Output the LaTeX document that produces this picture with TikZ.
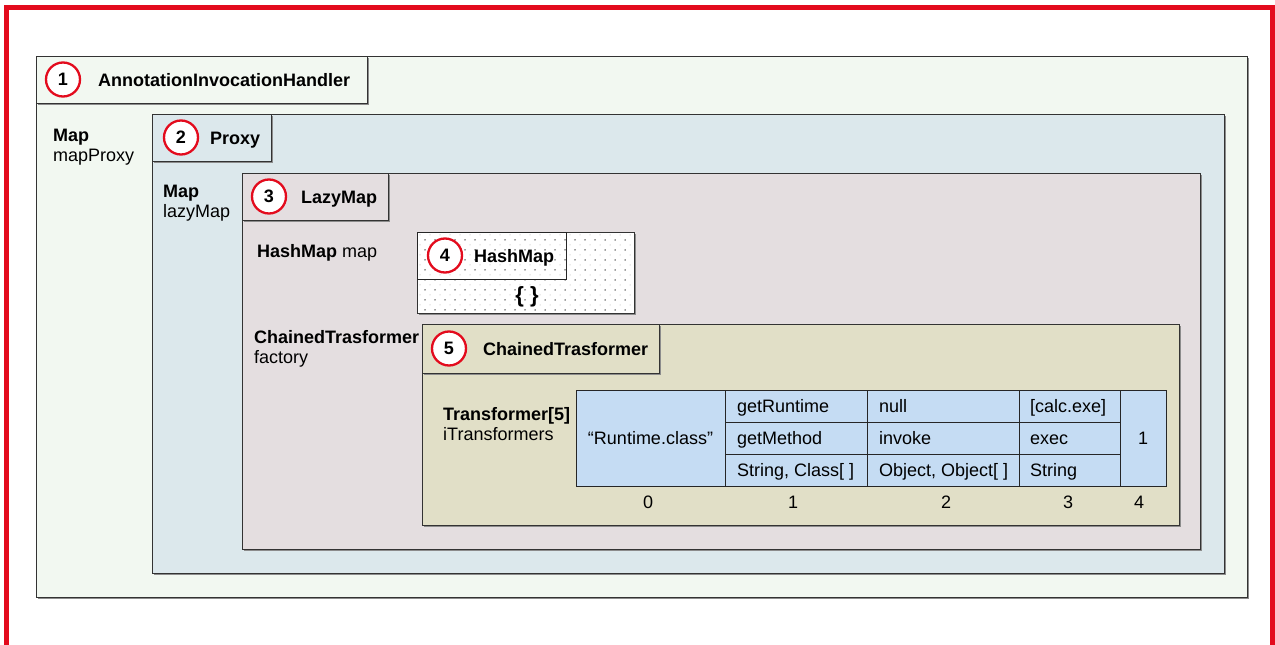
\documentclass[tikz,border=0pt]{standalone}
\usepackage{fontspec}
\setmainfont{Liberation Sans}
\usetikzlibrary{shadows, patterns.meta, math}

\definecolor{framered}{HTML}{E30B1D}
\definecolor{handlerbg}{HTML}{F2F8F1}
\definecolor{proxybg}{HTML}{DCE8EC}
\definecolor{lazybg}{HTML}{E4DEE0}
\definecolor{chainbg}{HTML}{E1DFC7}
\definecolor{cellbg}{HTML}{C5DCF3}

\tikzset{
  box/.style={draw=black!80, line width=0.9pt,
    drop shadow={shadow xshift=1.6pt, shadow yshift=-1.6pt, fill=black!45, opacity=1}},
  num/.style={circle, draw=framered, line width=2.3pt, fill=white,
    minimum size=34pt, inner sep=0pt, font=\bfseries},
  hdr/.style={anchor=base west, inner sep=0pt, font=\bfseries},
  txt/.style={anchor=base west, inner sep=0pt},
  cell/.style={draw=black!85, line width=0.7pt, fill=cellbg},
}

\begin{document}
\fontsize{18}{21}\selectfont
\begin{tikzpicture}[x=1pt, y=-1pt]
\tikzmath{
\rh=32;  % row height of the array
\ry=390; % top of the array
}
\useasboundingbox (0,0) rectangle (1275,645);
\clip (0,0) rectangle (1275,645);
\fill[white] (0,0) rectangle (1275,645);

% red frame, runs off the bottom
\draw[framered, line width=5pt] (6.5,700) -- (6.5,7.5) -- (1272.5,7.5) -- (1272.5,700);

% 1 AnnotationInvocationHandler
\draw[box, fill=handlerbg] (36,56) rectangle (1247,597);
\draw[box, fill=handlerbg] (36,56) rectangle (367,103);
\node[num] (n1) at (63,79.5) {1};
\node[hdr] (aih) at (98,86) {AnnotationInvocationHandler};
\node[txt, font=\bfseries] (mapType) at (53,141) {Map};
\node[txt] (mapProxy) at (53,161) {mapProxy};

% 2 Proxy
\draw[box, fill=proxybg] (152,114) rectangle (1224,573);
\draw[box, fill=proxybg] (152,114) rectangle (271,161);
\node[num] (n2) at (181,137.5) {2};
\node[hdr] (proxy) at (210,144) {Proxy};
\node[txt, font=\bfseries] (lazyType) at (163,197) {Map};
\node[txt] (lazyMap) at (163,217) {lazyMap};

% 3 LazyMap
\draw[box, fill=lazybg] (242,173) rectangle (1200,549);
\draw[box, fill=lazybg] (242,173) rectangle (388,220);
\node[num] (n3) at (269,196.5) {3};
\node[hdr] (lazy) at (301,203) {LazyMap};
\node[txt] (map) at (257,257) {\textbf{HashMap} map};

% 4 HashMap, dotted
\draw[box, fill=white] (417,232) rectangle (634,313);
\fill[pattern={Dots[distance=10pt, radius=0.5pt]}, pattern color=black!35]
  (417,232) rectangle (634,313);
\fill[pattern={Dots[distance=10pt, radius=0.75pt, xshift=5pt, yshift=5pt]}, pattern color=black!80]
  (417,232) rectangle (634,313);
\draw[black!85, line width=0.9pt] (417,232) rectangle (566,279);
\node[num] (n4) at (445,255.5) {4};
\node[hdr] (hash) at (474,262) {HashMap};
\node[font=\fontsize{22}{26}\selectfont\bfseries] (empty) at (527,297) {\{ \}};

% 5 ChainedTrasformer
\node[txt, font=\bfseries] (factType) at (254,343) {ChainedTrasformer};
\node[txt] (factory) at (254,363) {factory};
\draw[box, fill=chainbg] (422,324) rectangle (1179,525);
\draw[box, fill=chainbg] (422,324) rectangle (659,373);
\node[num] (n5) at (449,348.5) {5};
\node[hdr] (chain) at (483,355) {ChainedTrasformer};
\node[txt, font=\bfseries] (arrType) at (443,420) {Transformer[5]};
\node[txt] (arr) at (443,440) {iTransformers};

% the array
\draw[cell] (576,\ry) rectangle (725,\ry+3*\rh);
\foreach \x/\w in {725/867, 867/1019, 1019/1120}
  \foreach \r in {0,1,2}
    \draw[cell] (\x,\ry+\r*\rh) rectangle (\w,\ry+\r*\rh+\rh);
\draw[cell] (1120,\ry) rectangle (1166,\ry+3*\rh);

\node (c0) at (650.5,\ry+1.5*\rh) {“Runtime.class”};
\foreach \t [count=\r from 0] in {getRuntime, getMethod, {String, Class[ ]}}
  \node[txt] (c1\r) at (737,\ry+\r*\rh+22.5) {\t};
\foreach \t [count=\r from 0] in {null, invoke, {Object, Object[ ]}}
  \node[txt] (c2\r) at (879,\ry+\r*\rh+22.5) {\t};
\foreach \t [count=\r from 0] in {[calc.exe], exec, String}
  \node[txt] (c3\r) at (1030,\ry+\r*\rh+22.5) {\t};
\node (c4) at (1143,\ry+1.5*\rh) {1};

% indices
\foreach \i/\x in {0/648, 1/793, 2/946, 3/1068, 4/1139}
  \node (idx\i) at (\x,502) {\i};
\end{tikzpicture}
\end{document}
